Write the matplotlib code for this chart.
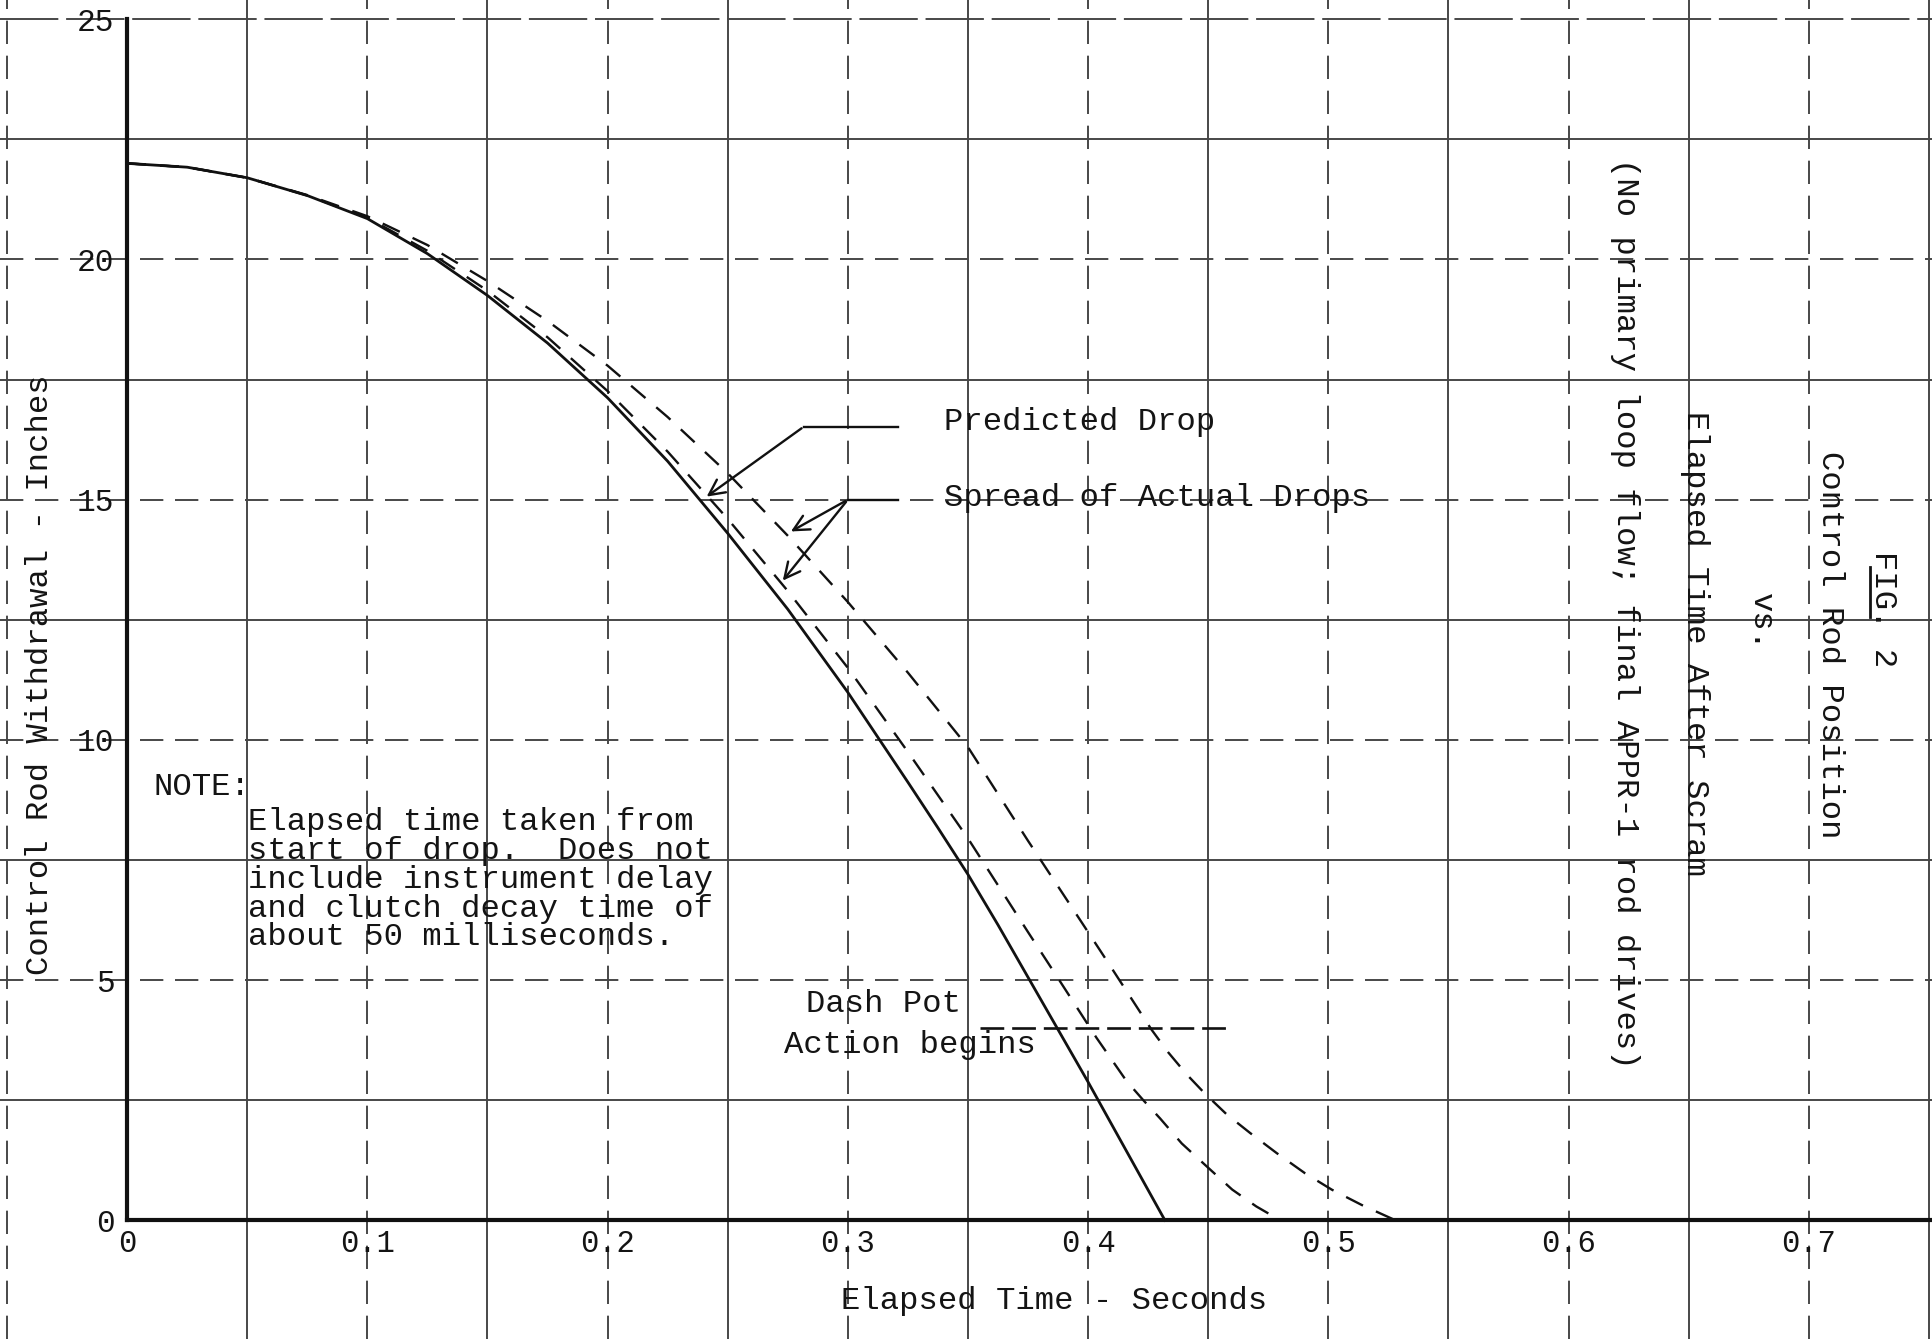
import numpy as np
import matplotlib

matplotlib.use("Agg")
import matplotlib.pyplot as plt

# values: time in seconds, withdrawal in inches
pred_t = [0.0, 0.025, 0.05, 0.075, 0.1, 0.125, 0.15, 0.175, 0.2, 0.225, 0.25,
          0.275, 0.3, 0.325, 0.3375, 0.35, 0.3625, 0.375, 0.4, 0.432]
pred_y = [22.0, 21.92, 21.7, 21.33, 20.85, 20.12, 19.25, 18.26, 17.12, 15.8, 14.3,
          12.72, 10.99, 9.12, 8.17, 7.2, 6.15, 5.06, 2.88, 0.0]

fast_t = [0.0, 0.025, 0.05, 0.075, 0.1, 0.125, 0.15, 0.175, 0.2, 0.225, 0.25,
          0.275, 0.3, 0.325, 0.35, 0.375, 0.388, 0.4035, 0.416, 0.423, 0.43,
          0.439, 0.449, 0.46, 0.47, 0.48]
fast_y = [22.0, 21.92, 21.7, 21.33, 20.87, 20.18, 19.35, 18.38, 17.26, 16.0, 14.6,
          13.1, 11.5, 9.75, 7.95, 6.0, 5.0, 3.8, 2.9, 2.5, 2.12,
          1.6, 1.14, 0.64, 0.29, 0.0]

slow_t = [0.0, 0.025, 0.05, 0.075, 0.1, 0.125, 0.15, 0.175, 0.2, 0.225, 0.25,
          0.275, 0.3, 0.325, 0.35, 0.375, 0.4, 0.4076, 0.4194, 0.4264, 0.4333,
          0.441, 0.4486, 0.4576, 0.4674, 0.4785, 0.4903, 0.5014, 0.5139, 0.528]
slow_y = [22.0, 21.92, 21.7, 21.34, 20.9, 20.3, 19.55, 18.72, 17.79, 16.72, 15.55,
          14.25, 12.87, 11.4, 9.85, 7.9, 6.0, 5.42, 4.51, 3.97, 3.5,
          3.04, 2.64, 2.21, 1.82, 1.4, 0.98, 0.64, 0.32, 0.0]

x_ticks = [0, 0.1, 0.2, 0.3, 0.4, 0.5, 0.6, 0.7]
x_labels = ["0", "0.1", "0.2", "0.3", "0.4", "0.5", "0.6", "0.7"]
y_ticks = [0, 5, 10, 15, 20, 25]
y_labels = ["0", "5", "10", "15", "20", "25"]

note_lines = [
    "Elapsed time taken from",
    "start of drop.  Does not",
    "include instrument delay",
    "and clutch decay time of",
    "about 50 milliseconds.",
]

FONT = "Liberation Mono"
INK = "#141414"
GRID = "#474747"

fig = plt.figure(figsize=(19.33, 13.39), dpi=100)
ax = fig.add_axes([0, 0, 1, 1])
ax.set_xlim(-0.0529, 0.7517)
ax.set_ylim(-2.47, 25.4)

# graph paper: alternating solid / broken rulings every 0.05 s and 2.5 in
for x in np.arange(-0.05, 0.76, 0.05):
    k = int(round(x / 0.05))
    if k == 0:
        continue
    ls = "-" if (k % 2 and k > 0) else (0, (12, 6))
    ax.axvline(x, color=GRID, lw=1.4, ls=ls, zorder=1)
for y in np.arange(2.5, 25.1, 2.5):
    k = int(round(y / 2.5))
    ls = "-" if k % 2 else (0, (12, 6))
    if k == 10:
        ls = (0, (30, 4))
    ax.axhline(y, color=GRID, lw=1.4, ls=ls, zorder=1)

for s in ["top", "right"]:
    ax.spines[s].set_visible(False)
ax.spines["left"].set_position(("data", 0))
ax.spines["bottom"].set_position(("data", 0))
ax.spines["left"].set_bounds(0, 25)
ax.spines["bottom"].set_bounds(0, 0.76)
for s in ["left", "bottom"]:
    ax.spines[s].set_linewidth(3.0)
    ax.spines[s].set_color("#111111")

ax.set_xticks(x_ticks)
ax.set_xticklabels(x_labels)
ax.set_yticks(y_ticks)
ax.set_yticklabels(y_labels)
ax.tick_params(axis="x", length=0, pad=6, labelsize=22, labelcolor=INK)
ax.tick_params(axis="y", length=0, pad=9, labelsize=22.5, labelcolor=INK)
for lab in ax.get_xticklabels() + ax.get_yticklabels():
    lab.set_family(FONT)

# curves
ax.plot(pred_t, pred_y, color="#111111", lw=2.0, zorder=3)
ax.plot(fast_t, fast_y, color="#111111", lw=1.7, ls=(0, (8, 6)), zorder=3)
ax.plot(slow_t, slow_y, color="#111111", lw=1.7, ls=(0, (8, 6)), zorder=3)

# leaders
arrow = dict(arrowstyle="->", color="#111111", lw=1.7, mutation_scale=28)
ax.plot([0.3207, 0.2817], [16.52, 16.52], color="#111111", lw=1.7)
ax.annotate("", xy=(0.2403, 15.03), xytext=(0.2817, 16.52), arrowprops=arrow)
ax.plot([0.3207, 0.3], [15.0, 15.0], color="#111111", lw=1.7)
ax.annotate("", xy=(0.2753, 14.31), xytext=(0.3, 15.0), arrowprops=arrow)
ax.annotate("", xy=(0.2722, 13.27), xytext=(0.3, 15.0), arrowprops=arrow)

# dash pot marker
ax.plot([0.355, 0.4604], [4.0, 4.0], color="#111111", lw=1.9, ls=(0, (9, 3)))

txt = dict(family=FONT, fontsize=23.2, color=INK)
ax.text(0.34, 16.62, "Predicted Drop", ha="left", va="center", **txt)
ax.text(0.34, 15.03, "Spread of Actual Drops", ha="left", va="center", **txt)
ax.text(0.0108, 9.01, "NOTE:", ha="left", va="center", **txt)
for i, line in enumerate(note_lines):
    ax.text(0.0505, 8.29 - i * 0.6, line, ha="left", va="center", **txt)
ax.text(0.2826, 4.51, "Dash Pot", ha="left", va="center", **txt)
ax.text(0.2735, 3.65, "Action begins", ha="left", va="center", **txt)

ax.text(0.3858, -1.67, "Elapsed Time - Seconds", ha="center", va="center", **txt)
ax.text(-0.0364, 11.35, "Control Rod Withdrawal - Inches", rotation=90,
        ha="center", va="center", **txt)

# title block, typed sideways
ax.text(0.731, 12.72, "FIG. 2", rotation=270, ha="center", va="center", **txt)
ax.plot([0.7255, 0.7255], [13.6, 12.55], color=INK, lw=2.0)
ax.text(0.709, 11.97, "Control Rod Position", rotation=270,
        ha="center", va="center", **txt)
ax.text(0.680, 12.46, "vs.", rotation=270, ha="center", va="center", **txt)
ax.text(0.6526, 12.0, "Elapsed Time After Scram", rotation=270,
        ha="center", va="center", **txt)
ax.text(0.6233, 12.64, "(No primary loop flow; final APPR-1 rod drives)",
        rotation=270, ha="center", va="center", **txt)

fig.savefig("out.png", dpi=100)
plt.close(fig)
